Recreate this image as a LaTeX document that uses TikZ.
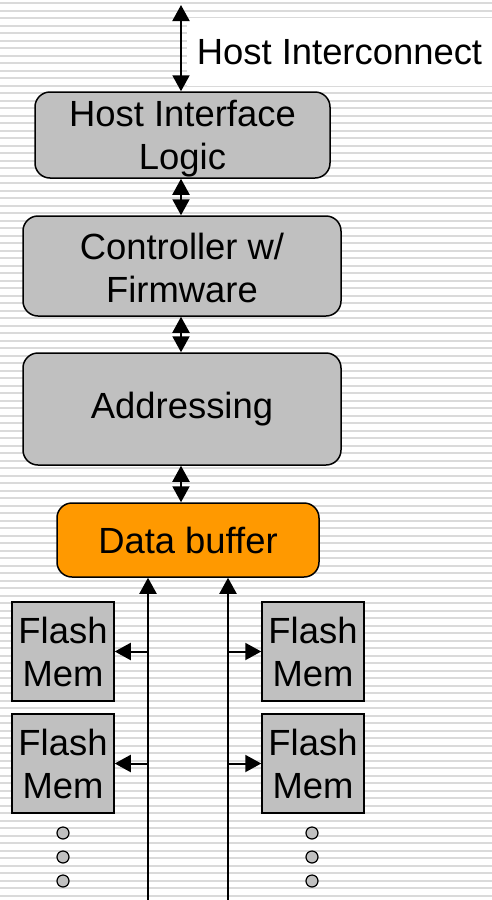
\documentclass[tikz,border=0pt]{standalone}
\usepackage{fontspec}
\setmainfont{Liberation Sans}
\usetikzlibrary{arrows.meta}
\definecolor{boxgray}{RGB}{192,192,192}
\definecolor{bufor}{RGB}{255,153,0}
\definecolor{stripe}{RGB}{218,218,218}
\tikzset{
  every node/.style={font=\fontsize{18.2}{21.5}\selectfont},
  blk/.style={draw=black, line width=0.75pt, rounded corners=7.5pt, fill=boxgray, align=center, inner sep=0pt},
  flash/.style={draw=black, line width=0.75pt, fill=boxgray, align=center, inner sep=0pt, minimum width=51pt, minimum height=49.5pt},
  dotc/.style={draw=black, line width=0.6pt, fill=boxgray, circle, inner sep=0pt, minimum size=6pt},
  conn/.style={line width=1pt, {Triangle[length=8pt,width=8.5pt]}-{Triangle[length=8pt,width=8.5pt]}},
  oneway/.style={line width=1pt, -{Triangle[length=8pt,width=8.5pt]}},
}
\begin{document}
\begin{tikzpicture}[x=0.5pt,y=-0.5pt]
\useasboundingbox (0,0) rectangle (492,900);
\fill[white] (0,0) rectangle (492,900);
\foreach \yy in {3,10.5,...,900} {
  \draw[stripe, line width=1pt] (0,\yy) -- (492,\yy);
}
% label
\node[fill=white, minimum width=152.5pt, minimum height=34pt, inner sep=0pt] (lbl) at (339.5,52) {Host Interconnect};
% blocks
\node[blk, minimum width=147.5pt, minimum height=43pt] (hil) at (182.5,135) {\rule{0pt}{17pt}Host Interface\\Logic};
\node[blk, minimum width=159pt, minimum height=50pt] (ctl) at (182,266) {\rule{0pt}{15pt}Controller w/\\Firmware};
\node[blk, minimum width=159pt, minimum height=56pt] (adr) at (182,409) {Addressing};
\node[blk, fill=bufor, minimum width=131pt, minimum height=37pt] (buf) at (188,540) {Data buffer};
% flash
\node[flash] (fl1) at (63,651.5) {Flash\\Mem};
\node[flash] (fl2) at (63,763.5) {Flash\\Mem};
\node[flash] (fr1) at (313,651.5) {Flash\\Mem};
\node[flash] (fr2) at (313,763.5) {Flash\\Mem};
% dots
\node[dotc] (dl1) at (63,833) {};
\node[dotc] (dl2) at (63,857) {};
\node[dotc] (dl3) at (63,881) {};
\node[dotc] (dr1) at (312,833) {};
\node[dotc] (dr2) at (312,857) {};
\node[dotc] (dr3) at (312,881) {};
% connectors
\coordinate (top) at (181,5);
\coordinate (bl) at (148,900);
\coordinate (br) at (228,900);
\draw[conn] (top) -- (top |- hil.north);
\draw[conn] (top |- hil.south) -- (top |- ctl.north);
\draw[conn] (top |- ctl.south) -- (top |- adr.north);
\draw[conn] (top |- adr.south) -- (top |- buf.north);
\draw[oneway] (bl) -- (bl |- buf.south);
\draw[oneway] (br) -- (br |- buf.south);
\draw[oneway] (bl |- fl1.east) -- (fl1.east);
\draw[oneway] (bl |- fl2.east) -- (fl2.east);
\draw[oneway] (br |- fr1.west) -- (fr1.west);
\draw[oneway] (br |- fr2.west) -- (fr2.west);
\end{tikzpicture}
\end{document}
